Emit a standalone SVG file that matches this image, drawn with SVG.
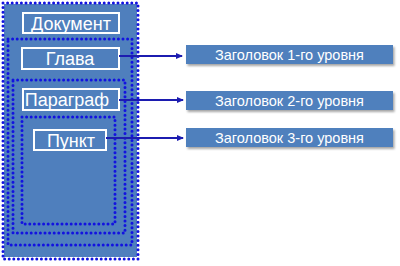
<svg xmlns="http://www.w3.org/2000/svg" width="400" height="266" viewBox="0 0 400 266">
<style>
.dot{fill:none;stroke:#1212e0;stroke-width:3;stroke-linecap:round;stroke-dasharray:0 4.6}
.lbl{fill:#4f7fbd;stroke:#ffffff;stroke-width:2}
.t{font-family:"Liberation Sans",Arial,sans-serif;fill:#ffffff;text-anchor:middle}
.big{font-size:18px}
.hd{font-size:14.5px}
.box{fill:#4f80bd}
.conn{stroke:#1c1cb0;stroke-width:2;fill:none;marker-end:url(#ah)}
</style>
<defs>
<marker id="ah" markerWidth="7" markerHeight="7" refX="6" refY="3.5" orient="auto" markerUnits="userSpaceOnUse">
<path d="M0,0.5 L7,3.5 L0,6.5 z" fill="#1c1cb0"/>
</marker>
<filter id="sh" x="-5%" y="-20%" width="112%" height="160%">
<feDropShadow dx="1.5" dy="2" stdDeviation="1.2" flood-color="#000" flood-opacity="0.35"/>
</filter>
</defs>
<rect width="400" height="266" fill="#ffffff"/>
<g id="document">
<rect x="4" y="4" width="133" height="253" fill="#4f7fbd"/>
<rect class="dot" x="3" y="3" width="135" height="256"/>
<rect class="lbl" x="23" y="13" width="96" height="20"/>
<text class="t big" x="71" y="30">Документ</text>
</g>
<g id="chapter">
<rect class="dot" x="8" y="39" width="124" height="206"/>
<rect class="lbl" x="22" y="48" width="97" height="21"/>
<text class="t big" x="70" y="65">Глава</text>
</g>
<g id="paragraph">
<rect class="dot" x="13" y="80" width="112" height="153"/>
<rect class="lbl" x="23" y="89" width="96" height="21"/>
<text class="t big" x="67" y="106">Параграф</text>
</g>
<g id="item">
<rect class="dot" x="22" y="117" width="93" height="107"/>
<rect class="lbl" x="34" y="130" width="72" height="20"/>
<text class="t big" x="71" y="147">Пункт</text>
</g>
<g id="h1">
<rect class="box" filter="url(#sh)" x="186" y="45" width="207" height="19"/>
<text class="t hd" x="289.5" y="59.5">Заголовок 1-го уровня</text>
</g>
<g id="h2">
<rect class="box" filter="url(#sh)" x="186" y="91" width="207" height="19"/>
<text class="t hd" x="289.5" y="105.5">Заголовок 2-го уровня</text>
</g>
<g id="h3">
<rect class="box" filter="url(#sh)" x="186" y="128" width="207" height="19"/>
<text class="t hd" x="289.5" y="142.5">Заголовок 3-го уровня</text>
</g>
<g id="connectors">
<line class="conn" x1="119" y1="56" x2="182" y2="56"/>
<line class="conn" x1="119" y1="100" x2="183" y2="100"/>
<line class="conn" x1="106" y1="138" x2="183" y2="138"/>
</g>
</svg>
